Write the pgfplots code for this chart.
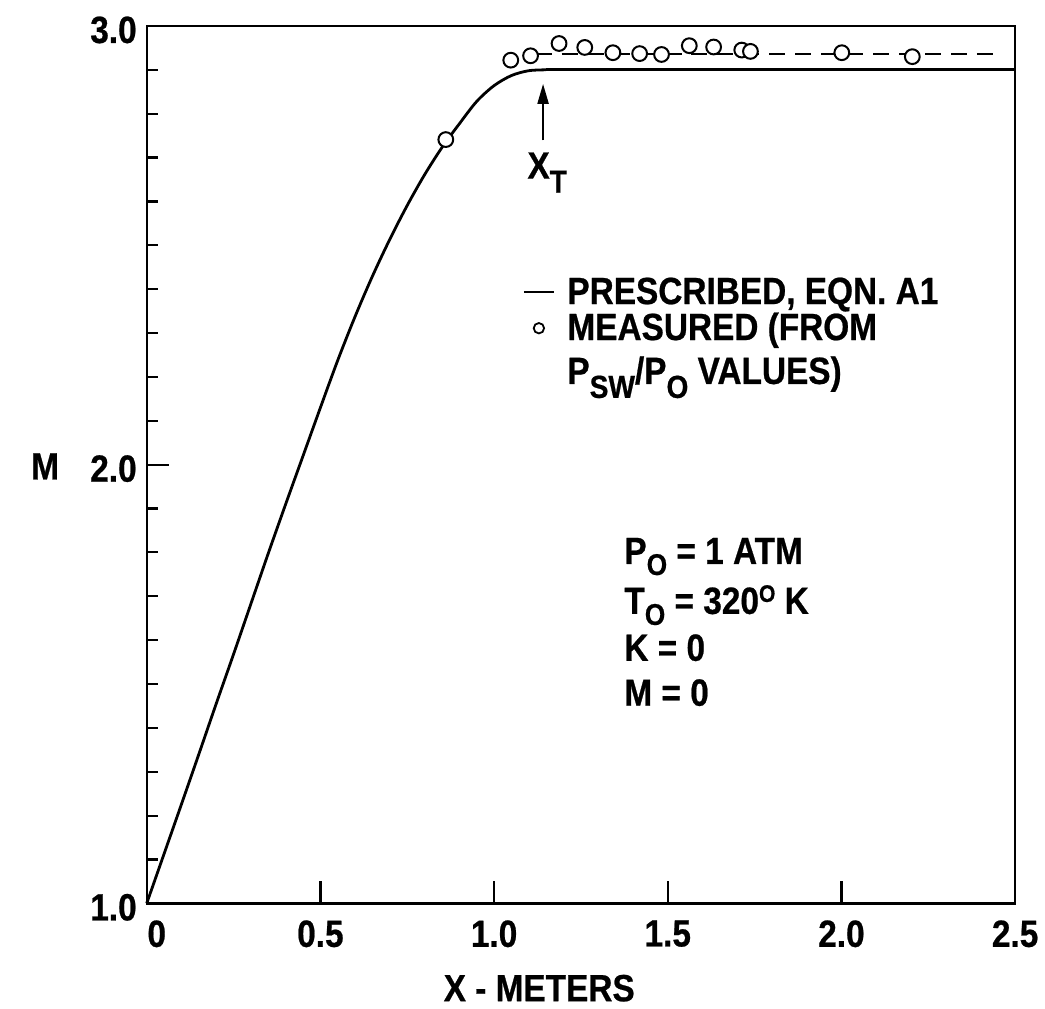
\documentclass[border=0pt]{standalone}
\usepackage{fontspec}
\setmainfont{Liberation Sans}[FakeStretch=0.88, FakeBold=0.6]
\usepackage{pgfplots}
\pgfplotsset{compat=1.18}
\usetikzlibrary{arrows.meta}
\newcommand{\lo}[1]{\raisebox{-7pt}{\fontsize{16}{16}\selectfont #1}}
\newcommand{\los}[1]{\raisebox{-5.5pt}{\fontsize{15}{15}\selectfont #1}}
\newcommand{\fnt}{\fontsize{19}{22}\selectfont\bfseries}
\begin{document}
\begin{tikzpicture}
\begin{axis}[
  scale only axis, width=435pt, height=439.5pt,
  xmin=0, xmax=2.5, ymin=1, ymax=3,
  axis line style={line width=1.2pt},
  xtick={0,0.5,1,1.5,2,2.5}, xticklabels={\hspace*{10pt}0,0.5,1.0,1.5,2.0,2.5},
  ytick={1,2,3}, yticklabels={1.0,2.0,3.0},
  minor ytick={1.1,1.2,1.3,1.4,1.5,1.6,1.7,1.8,1.9,2.1,2.2,2.3,2.4,2.5,2.6,2.7,2.8,2.9},
  tick align=inside, xtick pos=bottom, ytick pos=left,
  major tick length=11pt, minor tick length=5.5pt,
  every tick/.style={line width=1.1pt, black},
  tick label style={font=\fnt},
  xticklabel style={yshift=-5pt},
  yticklabel style={xshift=-1.5pt, yshift=-2pt},
  clip=false,
  xlabel={X - METERS}, ylabel={M},
  label style={font=\fnt},
  xlabel style={at={(axis description cs:0.452,-0.0967)}, anchor=center},
  ylabel style={at={(axis description cs:-0.117,0.498)}, anchor=center, rotate=-90},
]
% legend samples
\addplot[black, line width=1.2pt, forget plot] coordinates {(1.086,2.393) (1.172,2.393)};
\addplot[only marks, mark=o, mark size=2.6pt, mark options={line width=0.9pt}, forget plot] coordinates {(1.129,2.311)};
\node[anchor=base west, inner sep=0pt, font=\fnt] at (axis cs:1.210,2.366) {PRESCRIBED, EQN. A1};
\node[anchor=base west, inner sep=0pt, font=\fnt] at (axis cs:1.210,2.284) {MEASURED (FROM};
\node[anchor=base west, inner sep=0pt, font=\fnt] at (axis cs:1.210,2.184) {P\lo{SW}/P\lo{O} VALUES)};

\addplot[black, line width=1.4pt, smooth, forget plot] coordinates {
(0,1.0) (0.05,1.113) (0.1,1.226) (0.15,1.34) (0.2,1.455) (0.25,1.568)
(0.3,1.683) (0.35,1.798) (0.4,1.91) (0.45,2.02) (0.5,2.13) (0.55,2.238)
(0.6,2.338) (0.65,2.430) (0.7,2.514) (0.75,2.591) (0.8,2.661) (0.85,2.723)
(0.9,2.777) (0.95,2.828) (1.0,2.864) (1.05,2.887) (1.1,2.898) (1.15,2.90)};
\addplot[black, line width=1.4pt, forget plot] coordinates {(1.15,2.90) (2.5,2.90)};
\addplot[black, line width=1pt, dash pattern=on 8pt off 5pt, forget plot] coordinates {(1.12,2.937) (2.45,2.937)};
\addplot[only marks, mark=*, mark size=3.7pt, mark options={line width=1pt, fill=white, draw=black}, forget plot] coordinates {
(0.861,2.741) (1.048,2.922) (1.105,2.932) (1.187,2.960) (1.261,2.951) (1.342,2.939)
(1.419,2.937) (1.482,2.935) (1.562,2.955) (1.632,2.952) (1.713,2.945) (1.738,2.942)
(2.001,2.939) (2.204,2.930)};

\draw[line width=1.1pt, -{Triangle[length=10pt,width=5.5pt]}] (axis cs:1.141,2.739) -- (axis cs:1.141,2.868);
\node[anchor=base west, inner sep=0pt, font=\fnt] at (axis cs:1.095,2.652) {X\lo{T}};
\node[anchor=north west, inner sep=0pt, align=left, font=\fontsize{19}{22.5}\selectfont\bfseries] at (axis cs:1.374,1.834)
  {P\los{O} = 1 ATM\\[2.5pt] T\los{O} = 320\raisebox{6pt}{\fontsize{12}{12}\selectfont O} K\\[1pt] K = 0\\ M = 0};
\end{axis}
\path[use as bounding box] (-73.5pt,-51.5pt) rectangle (449pt,452.5pt);
\end{tikzpicture}
\end{document}
